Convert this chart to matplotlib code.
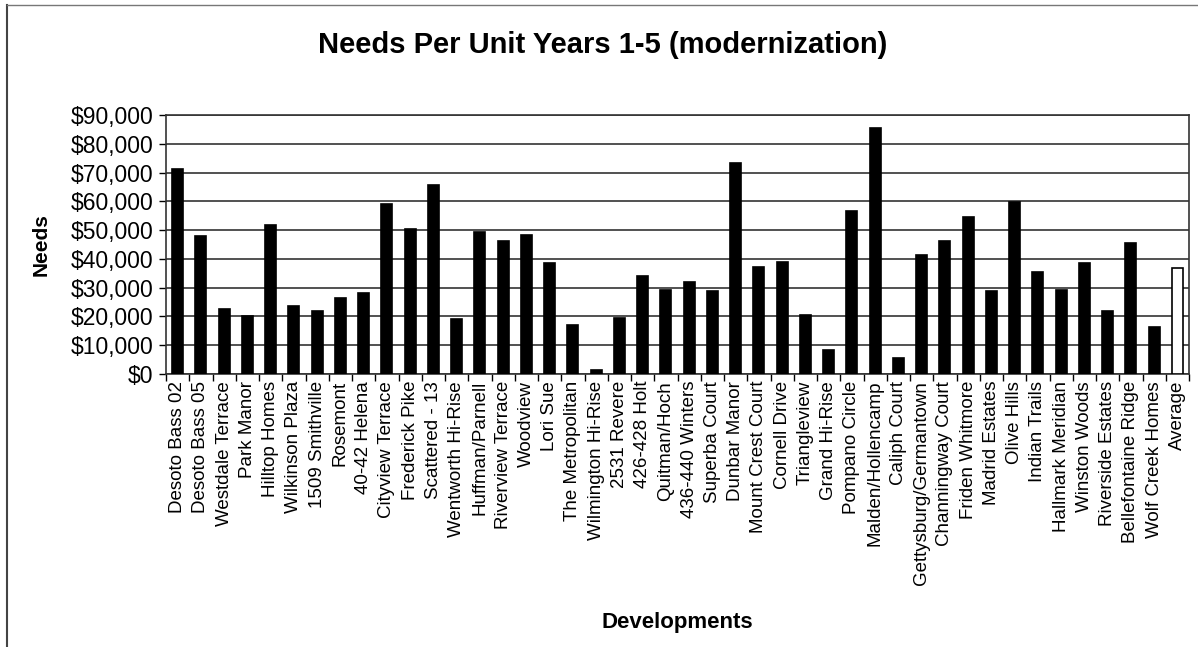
import numpy as np
import matplotlib
matplotlib.use("Agg")
from matplotlib import pyplot as plt
from matplotlib.lines import Line2D
from matplotlib.ticker import FuncFormatter, MultipleLocator

plt.rcParams['font.family'] = ['Liberation Sans', 'DejaVu Sans']

###################################################################################################
# Data
###################################################################################################
developments = ["Desoto Bass 02", "Desoto Bass 05", "Westdale Terrace", "Park Manor",
                "Hilltop Homes", "Wilkinson Plaza", "1509 Smithville", "Rosemont",
                "40-42 Helena", "Cityview Terrace", "Frederick Pike", "Scattered - 13",
                "Wentworth Hi-Rise", "Huffman/Parnell", "Riverview Terrace", "Woodview",
                "Lori Sue", "The Metropolitan", "Wilmington Hi-Rise", "2531 Revere",
                "426-428 Holt", "Quitman/Hoch", "436-440 Winters", "Superba Court",
                "Dunbar Manor", "Mount Crest Court", "Cornell Drive", "Triangleview",
                "Grand Hi-Rise", "Pompano Circle", "Malden/Hollencamp", "Caliph Court",
                "Gettysburg/Germantown", "Channingway Court", "Friden Whitmore", "Madrid Estates",
                "Olive Hills", "Indian Trails", "Hallmark Meridian", "Winston Woods",
                "Riverside Estates", "Bellefontaine Ridge", "Wolf Creek Homes", "Average"]
needs = [71200, 48100, 22500, 20000,
         51700, 23500, 21900, 26300,
         28000, 59200, 50400, 65700,
         19200, 49400, 46200, 48300,
         38500, 16900, 1400, 19300,
         34200, 29200, 32100, 28900,
         73400, 37300, 39000, 20500,
         8300, 56700, 85400, 5700,
         41300, 46200, 54400, 28900,
         59700, 35300, 29200, 38500,
         22000, 45600, 16400, 36700]

###################################################################################################
# Plot
###################################################################################################
fig = plt.figure(figsize=(11.98, 6.47), dpi=100)
ax = fig.add_axes([0.1386, 0.4219, 0.9925 - 0.1386, 0.8223 - 0.4219])

x = np.arange(len(developments))
colors = ['black'] * (len(developments) - 1) + ['white']
ax.bar(x, needs, width=0.47, color=colors, edgecolor='black', linewidth=1.2, zorder=3)

ax.set_xlim(-0.5, len(developments) - 0.5)
ax.set_ylim(0, 90000)
ax.yaxis.set_major_locator(MultipleLocator(10000))
ax.yaxis.set_major_formatter(FuncFormatter(lambda v, p: "${:,.0f}".format(v)))
ax.grid(axis='y', color='#222222', linewidth=1.1, zorder=1)

ax.set_xticks(x)
ax.set_xticklabels(developments, rotation=90, fontsize=13.5)
ax.set_xticks(np.arange(len(developments) + 1) - 0.5, minor=True)
ax.tick_params(axis='x', which='major', length=0, pad=5)
ax.tick_params(axis='x', which='minor', length=5, width=1, direction='out')
ax.tick_params(axis='y', length=5, width=1, labelsize=16.5, pad=4)

for s in ax.spines.values():
    s.set_linewidth(1.2)
    s.set_color('#333333')

ax.set_ylabel("Needs", fontsize=15, fontweight='bold', labelpad=8)
ax.set_xlabel("Developments", fontsize=16, fontweight='bold')
ax.xaxis.set_label_coords((677 - 166) / (1189 - 166), (374 - 612) / (374 - 115))
ax.yaxis.set_label_coords((51 - 166) / (1189 - 166), 0.5)

fig.text(0.503, 1 - 45 / 647, "Needs Per Unit Years 1-5 (modernization)",
         ha='center', va='center', fontsize=21, fontweight='bold')

# chart area border (left and top only visible)
fig.add_artist(Line2D([7 / 1198, 7 / 1198], [0, 1 - 5 / 647], color='#444444', linewidth=1.5))
fig.add_artist(Line2D([7 / 1198, 1], [1 - 5 / 647, 1 - 5 / 647], color='#777777', linewidth=1.0))

fig.savefig("out.png", dpi=100)
